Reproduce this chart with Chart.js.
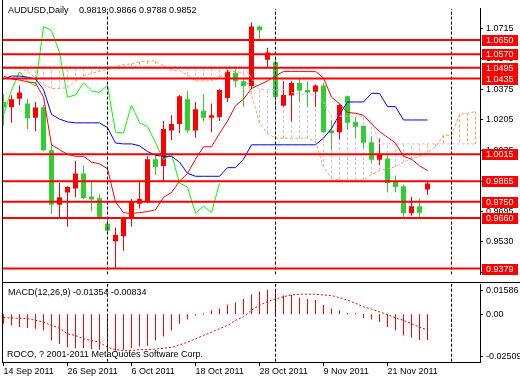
<!DOCTYPE html>
<html>
<head>
<meta charset="utf-8">
<script src="https://cdn.jsdelivr.net/npm/chart.js@4.4.0/dist/chart.umd.min.js"></script>
<style>
html, body { margin: 0; padding: 0; background: #fff; width: 520px; height: 380px; overflow: hidden; }
#main { position: absolute; left: 0; top: 0; }
#macd { position: absolute; left: 0; top: 283px; }
</style>
</head>
<body>
<canvas id="main" width="520" height="283"></canvas>
<canvas id="macd" width="520" height="97"></canvas>
<script>
const FONT = '9px "Liberation Sans", Arial, sans-serif';
const UP = '#ff0000', DOWN = '#32cd32';

// AUDUSD daily, 14 Sep .. 28 Nov 2011 (bar index 0..53)
const opens  = [1.0305, 1.0275, 1.0323, 1.0296, 1.0217, 1.0275, 1.0037, 0.9734, 0.9802, 0.9824,
                0.9908, 0.9780, 0.9770, 0.9628, 0.9531, 0.9559, 0.9660, 0.9740, 0.9752, 0.9987,
                0.9949, 1.0146, 1.0182, 1.0320, 1.0146, 1.0256, 1.0217, 1.0221, 1.0327, 1.0468,
                1.0420, 1.0394, 1.0724, 1.0540, 1.0527, 1.0284, 1.0341, 1.0411, 1.0371, 1.0362,
                1.0397, 1.0146, 1.0137, 1.0337, 1.0194, 1.0173, 1.0081, 0.9984, 0.9991, 0.9860,
                0.9837, 0.9687, 0.9726, 0.9819];
const highs  = [1.0348, 1.0343, 1.0397, 1.0323, 1.0305, 1.0288, 1.0076, 0.9855, 0.9837, 0.9978,
                0.9952, 0.9872, 0.9793, 0.9660, 0.9607, 0.9660, 0.9766, 0.9872, 1.0003, 1.0009,
                1.0199, 1.0231, 1.0344, 1.0367, 1.0305, 1.0349, 1.0296, 1.0376, 1.0482, 1.0486,
                1.0438, 1.0747, 1.0730, 1.0606, 1.0553, 1.0420, 1.0420, 1.0438, 1.0420, 1.0402,
                1.0411, 1.0203, 1.0296, 1.0341, 1.0221, 1.0173, 1.0115, 1.0102, 1.0009, 0.9897,
                0.9846, 0.9779, 0.9766, 0.9866];
const lows   = [1.0173, 1.0189, 1.0288, 1.0155, 1.0143, 1.0031, 0.9683, 0.9664, 0.9612, 0.9775,
                0.9766, 0.9696, 0.9650, 0.9572, 0.9379, 0.9478, 0.9612, 0.9713, 0.9743, 0.9899,
                0.9864, 1.0093, 1.0132, 1.0132, 1.0108, 1.0199, 1.0137, 1.0199, 1.0305, 1.0385,
                1.0279, 1.0376, 1.0645, 1.0496, 1.0261, 1.0279, 1.0196, 1.0305, 1.0279, 1.0279,
                1.0132, 1.0040, 1.0097, 1.0150, 1.0106, 1.0049, 0.9966, 0.9955, 0.9802, 0.9802,
                0.9655, 0.9673, 0.9660, 0.9788];
const closes = [1.0274, 1.0320, 1.0358, 1.0214, 1.0274, 1.0037, 0.9734, 0.9775, 0.9832, 0.9908,
                0.9771, 0.9763, 0.9655, 0.9590, 0.9567, 0.9655, 0.9749, 0.9766, 0.9987, 0.9943,
                1.0155, 1.0182, 1.0337, 1.0146, 1.0265, 1.0217, 1.0231, 1.0371, 1.0473, 1.0420,
                1.0394, 1.0724, 1.0703, 1.0580, 1.0332, 1.0344, 1.0411, 1.0367, 1.0358, 1.0397,
                1.0137, 1.0132, 1.0288, 1.0190, 1.0168, 1.0079, 0.9984, 1.0014, 0.9855, 0.9832,
                0.9687, 0.9726, 0.9690, 0.9852];

// Ichimoku lines
const tenkan = [1.0449, 1.0433, 1.0427, 1.0417, 1.0411, 1.0332, 1.0067, 1.0040, 1.0014, 1.0003,
                1.0003, 0.9971, 0.9961, 0.9934, 0.9749, 0.9690, 0.9685, 0.9690, 0.9696, 0.9706,
                0.9775, 0.9802, 0.9865, 0.9908, 0.9987, 1.0056, 1.0056, 1.0130, 1.0199, 1.0284,
                1.0321, 1.0380, 1.0401, 1.0422, 1.0449, 1.0475, 1.0475, 1.0475, 1.0475, 1.0475,
                1.0438, 1.0332, 1.0295, 1.0247, 1.0242, 1.0231, 1.0183, 1.0141, 1.0109, 1.0077,
                1.0003, 0.9987, 0.9950, 0.9924];
const kijun  = [1.0433, 1.0449, 1.0449, 1.0443, 1.0433, 1.0374, 1.0236, 1.0210, 1.0194, 1.0189,
                1.0189, 1.0189, 1.0189, 1.0162, 1.0077, 1.0072, 1.0072, 1.0062, 1.0030, 1.0009,
                1.0003, 1.0003, 0.9971, 0.9908, 0.9892, 0.9892, 0.9892, 0.9892, 0.9940, 0.9940,
                0.9987, 1.0067, 1.0067, 1.0067, 1.0067, 1.0067, 1.0067, 1.0067, 1.0067, 1.0067,
                1.0104, 1.0157, 1.0236, 1.0305, 1.0305, 1.0305, 1.0353, 1.0353, 1.0279, 1.0279,
                1.0205, 1.0205, 1.0205, 1.0205];
// senkou spans run 6 bars past the last candle
const spanA  = [1.0496, 1.0496, 1.0491, 1.0475, 1.0438, 1.0401, 1.0380, 1.0380, 1.0385, 1.0422,
                1.0449, 1.0464, 1.0475, 1.0486, 1.0502, 1.0512, 1.0517, 1.0528, 1.0533, 1.0533,
                1.0507, 1.0480, 1.0480, 1.0454, 1.0422, 1.0422, 1.0422, 1.0443, 1.0475, 1.0475,
                1.0464, 1.0348, 1.0189, 1.0130, 1.0104, 1.0104, 1.0104, 1.0104, 1.0104, 1.0083,
                0.9945, 0.9881, 0.9871, 0.9871, 0.9871, 0.9871, 0.9902, 0.9924, 0.9934, 0.9945,
                0.9971, 0.9987, 1.0003, 1.0024, 1.0056, 1.0120, 1.0120, 1.0236, 1.0242, 1.0252];
const spanB  = [1.0502, 1.0502, 1.0502, 1.0502, 1.0502, 1.0502, 1.0502, 1.0502, 1.0502, 1.0502,
                1.0502, 1.0502, 1.0502, 1.0502, 1.0502, 1.0502, 1.0502, 1.0502, 1.0502, 1.0502,
                1.0502, 1.0502, 1.0502, 1.0502, 1.0502, 1.0502, 1.0502, 1.0502, 1.0502, 1.0502,
                1.0502, 1.0438, 1.0374, 1.0374, 1.0374, 1.0374, 1.0358, 1.0348, 1.0348, 1.0348,
                1.0305, 1.0226, 1.0226, 1.0226, 1.0226, 1.0226, 1.0199, 1.0072, 1.0072, 1.0072,
                1.0072, 1.0072, 1.0072, 1.0072, 1.0072, 1.0072, 1.0072, 1.0072, 1.0072, 1.0072];

const levels     = [1.0650, 1.0570, 1.0495, 1.0435, 1.0015, 0.9865, 0.9750, 0.9660, 0.9379];
const priceTicks = [1.0715, 1.0545, 1.0375, 1.0205, 1.0035, 0.9865, 0.9695, 0.9530, 0.9360];

// MACD(12,26,9)
const macdMain   = [-0.0050, -0.0059, -0.0067, -0.0073, -0.0076, -0.0085, -0.0138, -0.0156, -0.0174, -0.0179,
                    -0.0179, -0.0183, -0.0186, -0.0192, -0.0192, -0.0186, -0.0179, -0.0170, -0.0165, -0.0138,
                    -0.0117, -0.0085, -0.0050, -0.0027, -0.0007, 0.0004, 0.0021, 0.0030, 0.0051, 0.0062,
                    0.0080, 0.0105, 0.0119, 0.0128, 0.0133, 0.0098, 0.0101, 0.0087, 0.0080, 0.0074,
                    0.0048, 0.0030, 0.0021, 0.0007, 0.0001, -0.0020, -0.0027, -0.0041, -0.0067, -0.0085,
                    -0.0112, -0.0124, -0.0135, -0.01354];
const macdSignal = [-0.0018, -0.0020, -0.0021, -0.0023, -0.0032, -0.0041, -0.0059, -0.0073, -0.0103, -0.0112,
                    -0.0129, -0.0138, -0.0147, -0.0174, -0.0186, -0.0191, -0.0191, -0.0186, -0.0186, -0.0183,
                    -0.0179, -0.0174, -0.0161, -0.0147, -0.0129, -0.0112, -0.0094, -0.0076, -0.0059, -0.0032,
                    -0.0014, 0.0021, 0.0048, 0.0066, 0.0080, 0.0092, 0.0101, 0.0105, 0.0105, 0.0105,
                    0.0101, 0.0098, 0.0087, 0.0074, 0.0057, 0.0039, 0.0027, 0.0012, -0.0002, -0.0020,
                    -0.0032, -0.0050, -0.0067, -0.00834];
const macdMax = 0.01586, macdMin = -0.02509;

const dateIdx    = [0, 8, 16, 24, 32, 40, 48];
const dateLabels = ['14 Sep 2011', '26 Sep 2011', '6 Oct 2011', '18 Oct 2011', '28 Oct 2011', '9 Nov 2011', '21 Nov 2011'];
const monthStarts = [13, 34, 56];

const xMin = -0.1875, xMax = 59.5625;
const priceMin = 0.93457, priceMax = 1.08250;

function lineDs(data, color, dash, width) {
    return {
        type: 'line', data: data, borderColor: color, borderWidth: width || 1,
        borderDash: dash || [], pointRadius: 0, tension: 0, fill: false, spanGaps: false
    };
}
function barDs(data, colors, thickness) {
    return {
        type: 'bar', data: data, backgroundColor: colors, borderWidth: 0, barThickness: thickness,
        grouped: false, minBarLength: 1, inflateAmount: 0
    };
}

// build chart data from the arrays
const levelPts = [];
levels.forEach(l => levelPts.push({x: xMin, y: l}, {x: xMax, y: l}, {x: xMax, y: null}));
const sepPts = [];
monthStarts.forEach(m => sepPts.push({x: m, y: priceMin}, {x: m, y: priceMax}, {x: m, y: null}));
const macdSepPts = [];
monthStarts.forEach(m => macdSepPts.push({x: m, y: macdMin - 1}, {x: m, y: macdMax + 1}, {x: m, y: null}));
const hatchUp = [], hatchDn = [];
spanA.forEach((a, i) => {
    const b = spanB[i];
    (a > b ? hatchUp : hatchDn).push({x: i, y: a}, {x: i, y: b}, {x: i, y: null});
});
const candleCol = opens.map((o, i) => closes[i] >= o ? UP : DOWN);
const bodies = opens.map((o, i) => ({x: i, y: [o, closes[i]]}));
const wicks = highs.map((h, i) => ({x: i, y: [lows[i], h]}));
const chikou = closes.slice(26).map((c, j) => ({x: j, y: c}));
const toPts = arr => arr.map((v, i) => ({x: i, y: v}));

const mainFrame = {
    id: 'mainFrame',
    afterDraw(chart) {
        const ctx = chart.ctx, a = chart.chartArea, ys = chart.scales.y;
        ctx.save();
        ctx.strokeStyle = '#000';
        ctx.lineWidth = 1;
        ctx.beginPath();
        ctx.moveTo(a.left + 0.5, 0); ctx.lineTo(a.left + 0.5, chart.height);
        ctx.moveTo(a.left, chart.height - 0.5); ctx.lineTo(chart.width, chart.height - 0.5);
        ctx.stroke();
        ctx.font = FONT;
        ctx.textBaseline = 'middle';
        levels.forEach(l => {
            const py = Math.round(ys.getPixelForValue(l));
            ctx.fillStyle = '#ff0000';
            ctx.fillRect(a.right + 2, py - 5, 36, 11);
            ctx.fillStyle = '#fff';
            ctx.fillText(l.toFixed(4), a.right + 6, py + 1);
        });
        const n = opens.length - 1;
        ctx.fillStyle = '#000';
        ctx.fillText('AUDUSD,Daily', 8, 11);
        ctx.fillText([opens[n], highs[n], lows[n], closes[n]].map(v => v.toFixed(4)).join(' '), 79, 11);
        ctx.restore();
    }
};

new Chart(document.getElementById('main'), {
    type: 'bar',
    data: {
        datasets: [
            lineDs(levelPts, '#ff0000', [], 2),
            lineDs(sepPts, '#000', [3, 2]),
            lineDs(toPts(tenkan), '#ff0000'),
            lineDs(toPts(kijun), '#0000ff'),
            lineDs(chikou, '#00ff00'),
            lineDs(toPts(spanA), '#f4a460', [3, 2]),
            lineDs(toPts(spanB), '#d8bfd8', [3, 2]),
            barDs(bodies, candleCol, 5),
            barDs(wicks, candleCol, 1),
            lineDs(hatchUp, '#f4a460', [3, 2]),
            lineDs(hatchDn, '#d8bfd8', [3, 2])
        ]
    },
    options: {
        responsive: false,
        animation: false,
        events: [],
        layout: { padding: { left: 2, top: 2, right: 0, bottom: 2 } },
        plugins: { legend: { display: false }, tooltip: { enabled: false } },
        scales: {
            x: { type: 'linear', min: xMin, max: xMax, offset: false, display: false },
            y: {
                type: 'linear', position: 'right', min: priceMin, max: priceMax, beginAtZero: false,
                afterFit: s => { s.width = 40; },
                afterBuildTicks: s => { s.ticks = priceTicks.map(v => ({value: v})); },
                ticks: { callback: v => v.toFixed(4), font: { family: '"Liberation Sans", Arial, sans-serif', size: 9 },
                         color: '#000', padding: 3, autoSkip: false },
                grid: { drawOnChartArea: false, tickLength: 3, color: '#000' },
                border: { display: true, color: '#000' }
            }
        }
    },
    plugins: [mainFrame]
});

const macdFrame = {
    id: 'macdFrame',
    afterDraw(chart) {
        const ctx = chart.ctx, a = chart.chartArea, ys = chart.scales.y;
        ctx.save();
        ctx.strokeStyle = '#000';
        ctx.lineWidth = 1;
        ctx.beginPath();
        ctx.moveTo(a.left + 0.5, 0); ctx.lineTo(a.left + 0.5, a.bottom);
        ctx.stroke();
        ctx.font = FONT;
        ctx.textBaseline = 'middle';
        ctx.fillStyle = '#000';
        const n = macdMain.length - 1;
        ctx.fillText('MACD(12,26,9) ' + macdMain[n].toFixed(5) + ' ' + macdSignal[n].toFixed(5), 8, 10);
        ctx.fillText('ROCO, ? 2001-2011 MetaQuotes Software Corp.', 7, 72);
        const labs = [[macdMax, '0.01586', 6], [0, '0.00', 0], [macdMin, '-0.02509', -6]];
        labs.forEach(([v, t, off]) => {
            const py = Math.round(ys.getPixelForValue(v)) + off;
            ctx.fillRect(a.right, py, 3, 1);
            ctx.fillText(t, a.right + 6, py + 1);
        });
        ctx.restore();
    }
};

new Chart(document.getElementById('macd'), {
    type: 'bar',
    data: {
        datasets: [
            lineDs(macdSepPts, '#000', [3, 2]),
            lineDs(toPts(macdSignal), '#ff0000', [2, 2]),
            barDs(toPts(macdMain), '#ff0000', 1)
        ]
    },
    options: {
        responsive: false,
        animation: false,
        events: [],
        layout: { padding: { left: 2, top: 1, right: 0, bottom: 0 } },
        plugins: { legend: { display: false }, tooltip: { enabled: false } },
        scales: {
            x: {
                type: 'linear', min: xMin, max: xMax, offset: false, position: 'bottom',
                afterFit: s => { s.height = 18; },
                afterBuildTicks: s => { s.ticks = dateIdx.map(v => ({value: v})); },
                ticks: { callback: v => dateLabels[dateIdx.indexOf(v)], align: 'start', maxRotation: 0,
                         autoSkip: false, padding: 0, color: '#000',
                         font: { family: '"Liberation Sans", Arial, sans-serif', size: 9 } },
                grid: { drawOnChartArea: false, tickLength: 4, color: '#000', offset: false },
                border: { display: true, color: '#000' }
            },
            y: {
                type: 'linear', position: 'right', min: macdMin, max: macdMax, beginAtZero: false,
                afterFit: s => { s.width = 40; },
                ticks: { display: false },
                grid: { display: false },
                border: { display: true, color: '#000' }
            }
        }
    },
    plugins: [macdFrame]
});
</script>
</body>
</html>
